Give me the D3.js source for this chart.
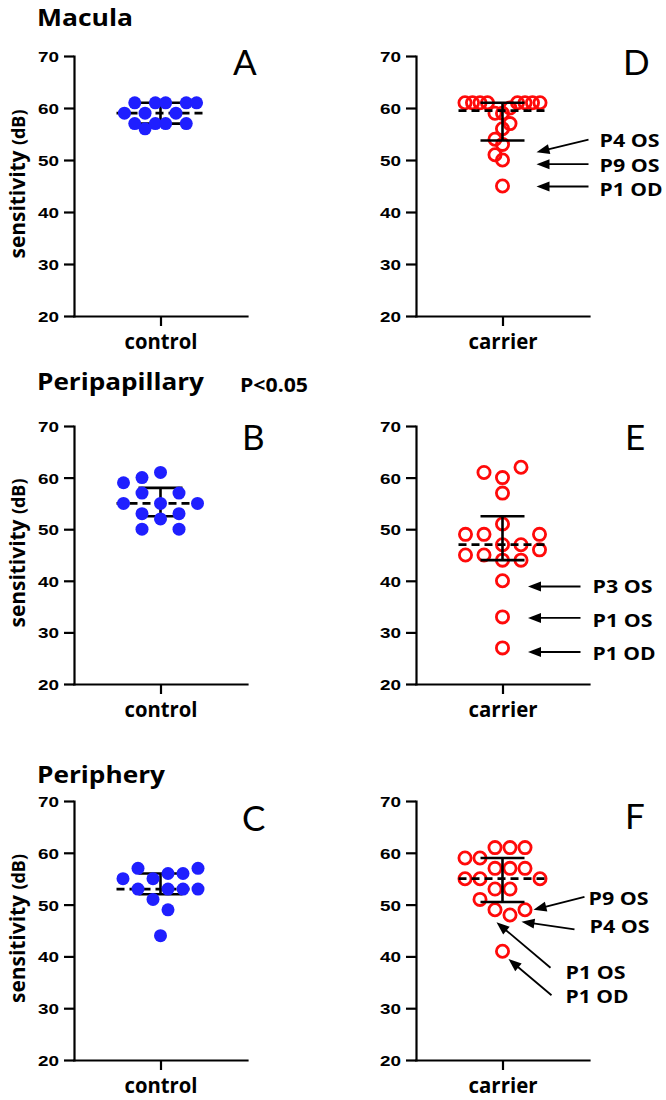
<!DOCTYPE html>
<html><head><meta charset="utf-8">
<script src="https://cdn.jsdelivr.net/npm/d3@7"></script>
<style>body{margin:0;background:#fff}svg{display:block}</style>
</head><body>
<svg id="chart" width="666" height="1100"></svg>
<script>
// ---------------- data ----------------
const sectionTitles = ["Macula", "Peripapillary", "Periphery"];
const panelLetters = ["A", "D", "B", "E", "C", "F"];
const groupNames = ["control", "carrier"];
const yTicks = [20, 30, 40, 50, 60, 70];
const pValueLabel = "P<0.05";
const yLabelMain = "sensitivity";
const yLabelUnit = "(dB)";

// sensitivities (dB), one value per eye
const controlMacula = [61, 61, 57, 57, 59, 59, 61, 61, 57, 57, 59, 61, 56];
const carrierMacula = [59, 59, 60, 57, 56, 54, 53, 51, 50, 45, 61, 61, 61, 61, 61, 61, 61, 61];
const controlPeripapillary = [61, 55, 52, 60, 57, 57, 53, 53, 50, 50, 59, 55, 55];
const carrierPeripapillary = [60, 57, 47, 44, 40, 33, 27, 61, 62, 51, 49, 47, 49, 49, 45, 45, 46, 44];
const controlPeriphery = [55, 56, 51, 53, 49, 57, 56, 55, 57, 53, 53, 53, 44];
const carrierPeriphery = [61, 57, 53, 49, 61, 57, 53, 48, 59, 61, 57, 59, 55, 55, 55, 51, 49, 41];

// annotations (values in dB: arrow tip, arrow tail/label)
const annLabelsD = ["P4 OS", "P9 OS", "P1 OD"];
const annTipD = [51.5, 49.2, 44.9];
const annTailD = [53.9, 49.2, 44.9];
const annLabelsE = ["P3 OS", "P1 OS", "P1 OD"];
const annTipE = [38.9, 32.8, 26.2];
const annTailE = [38.9, 32.8, 26.2];
const annLabelsF = ["P9 OS", "P4 OS", "P1 OS", "P1 OD"];
const annTipF = [49.0, 46.7, 46.6, 39.5];
const annTailF = [51.5, 45.2, 37.8, 32.5];

// ---------------- layout ----------------
const rows = [
  {top: 56, bottom: 316, titleY: 26},
  {top: 426, bottom: 684, titleY: 390},
  {top: 801, bottom: 1060, titleY: 783}
];
const colAxisX = [74, 416];
const axisLen = 173;
const letterPos = [[233, 75], [623, 75], [242, 450], [625, 450], [242, 831], [625, 829]];
const titleWidths = [96, 167, 128];
const BLUE = "#1f1fff", RED = "#ff0a0a";
const CAL = "'Open Sans', Lato, sans-serif";
const ARIAL = "'Liberation Sans', Arial, sans-serif";

const panels = [
  {row: 0, col: 0, values: controlMacula, group: 0, sw: {step: 10.3, parity: 1, ax: 10, ay: 11}},
  {row: 0, col: 1, values: carrierMacula, group: 1, sw: {step: 7.5, parity: 0, ax: 7, ay: 11},
   ann: {labels: annLabelsD, tip: annTipD, tail: annTailD, tipDx: [34, 34, 34], tailDx: [86, 86, 86], textDx: [97, 97, 97], textDy: [7, 8, 9]}},
  {row: 1, col: 0, values: controlPeripapillary, group: 0, sw: {step: 18.5, parity: 0, ax: 13, ay: 13}},
  {row: 1, col: 1, values: carrierPeripapillary, group: 1, sw: {step: 18.5, parity: 0, ax: 13, ay: 13},
   ann: {labels: annLabelsE, tip: annTipE, tail: annTailE, tipDx: [25.5, 25.5, 25.5], tailDx: [78, 78, 78], textDx: [90, 90, 90], textDy: [7, 9, 8]}},
  {row: 2, col: 0, values: controlPeriphery, group: 0, sw: {step: 15, parity: 1, ax: 13, ay: 13}},
  {row: 2, col: 1, values: carrierPeriphery, group: 1, sw: {step: 15, parity: 1, ax: 13, ay: 13},
   ann: {labels: annLabelsF, tip: annTipF, tail: annTailF, tipDx: [31, 19, -6, 6], tailDx: [82, 72, 48, 49], textDx: [86, 87, 63, 63], textDy: [8, 4, 11, 8]}}
];

const svg = d3.select("#chart");
svg.append("rect").attr("width", 666).attr("height", 1100).attr("fill", "#fff");

function fit(sel, w) {
  sel.attr("textLength", w).attr("lengthAdjust", "spacingAndGlyphs");
}

function prismQuantile(sorted, p) {
  const n = sorted.length, h = (n + 1) * p, lo = Math.floor(h);
  if (lo < 1) return sorted[0];
  if (lo >= n) return sorted[n - 1];
  return sorted[lo - 1] + (h - lo) * (sorted[lo] - sorted[lo - 1]);
}

function swarm(values, y, p) {
  const cands = d3.range(-10, 11).map(k => (k + p.parity * 0.5) * p.step)
    .sort((a, b) => Math.abs(a) - Math.abs(b) || a - b);
  const placed = [];
  values.forEach((v, i) => {
    const py = y(v);
    const isolated = !values.some((w, j) => j !== i && Math.abs(y(w) - py) < p.ay);
    if (isolated) { placed.push({v, dx: 0, y: py}); return; }
    for (const c of cands) {
      const ok = placed.every(q => ((q.dx - c) / p.ax) ** 2 + ((q.y - py) / p.ay) ** 2 >= 1);
      if (ok) { placed.push({v, dx: c, y: py}); break; }
    }
  });
  return placed;
}

function arrow(g, x1, y1, x2, y2) {
  const a = Math.atan2(y2 - y1, x2 - x1), L = 13, W = 5;
  const c = Math.cos(a), s = Math.sin(a);
  const bx = x2 - L * c, by = y2 - L * s;
  g.append("line").attr("x1", x1).attr("y1", y1).attr("x2", bx + 1 * c).attr("y2", by + 1 * s)
    .attr("stroke", "#000").attr("stroke-width", 1.8);
  g.append("path").attr("d", `M${x2},${y2}L${bx - W * s},${by + W * c}L${bx + W * s},${by - W * c}Z`).attr("fill", "#000");
}

// section titles
sectionTitles.forEach((t, i) => {
  svg.append("text").attr("x", 37).attr("y", rows[i].titleY)
    .attr("font-family", CAL).attr("font-weight", 700).attr("font-size", 24).attr("fill", "#000")
    .text(t).call(fit, titleWidths[i]);
});
svg.append("text").attr("x", 240).attr("y", 392)
  .attr("font-family", CAL).attr("font-weight", 700).attr("font-size", 19).attr("fill", "#000")
  .text(pValueLabel).call(fit, 68);

panels.forEach((p, pi) => {
  const R = rows[p.row], ax = colAxisX[p.col];
  const gname = groupNames[p.group];
  const y = d3.scaleLinear().domain([20, 70]).range([R.bottom, R.top]);
  const x = d3.scalePoint().domain([gname]).range([ax, ax + axisLen]).padding(0.5);
  const cx = x(gname);
  const g = svg.append("g");

  // axes
  const ya = g.append("g").attr("transform", `translate(${ax},0)`)
    .call(d3.axisLeft(y).tickValues(yTicks).tickSize(10).tickSizeOuter(0).tickPadding(5));
  const xa = g.append("g").attr("transform", `translate(0,${R.bottom})`)
    .call(d3.axisBottom(x).tickSize(10).tickSizeOuter(0));
  [ya, xa].forEach(a => {
    a.select(".domain").attr("stroke", "#000").attr("stroke-width", 2.2).attr("stroke-linecap", "square");
    a.selectAll(".tick line").attr("stroke", "#000").attr("stroke-width", 2.2);
  });
  ya.selectAll(".tick text").attr("font-family", ARIAL).attr("font-weight", 700)
    .attr("font-size", 15.5).attr("fill", "#000").attr("dy", "0.36em").call(fit, 21);
  xa.selectAll(".tick text").attr("font-family", CAL).attr("font-weight", 700)
    .attr("font-size", 21).attr("fill", "#000").attr("y", 33).attr("dy", 0)
    .call(fit, p.group === 0 ? 73 : 69);

  if (p.col === 0) {
    const t = g.append("text")
      .attr("transform", `translate(${ax - 49},${(R.top + R.bottom) / 2 - 2}) rotate(-90)`)
      .attr("text-anchor", "middle").attr("font-family", CAL).attr("font-weight", 700).attr("fill", "#000");
    t.append("tspan").attr("font-size", 21).text(yLabelMain + " ");
    t.append("tspan").attr("font-size", 18).text(yLabelUnit);
    fit(t, 149);
  }

  // panel letter
  g.append("text").attr("x", letterPos[pi][0]).attr("y", letterPos[pi][1])
    .attr("font-family", "Lato, 'Open Sans', sans-serif").attr("font-size", 35).attr("fill", "#000").text(panelLetters[pi]);

  // stats: median with interquartile range
  const sorted = p.values.slice().sort(d3.ascending);
  const med = d3.median(sorted), q1 = prismQuantile(sorted, 0.25), q3 = prismQuantile(sorted, 0.75);
  const pts = swarm(p.values, y, p.sw);

  const drawStats = () => {
    const s = g.append("g").attr("stroke", "#000");
    s.append("line").attr("x1", cx - 44).attr("x2", cx + 44).attr("y1", y(med)).attr("y2", y(med))
      .attr("stroke-width", 2.8).attr("stroke-dasharray", "8,5");
    s.append("line").attr("x1", cx).attr("x2", cx).attr("y1", y(q1)).attr("y2", y(q3)).attr("stroke-width", 2.6);
    [q1, q3].forEach(q => s.append("line").attr("x1", cx - 22).attr("x2", cx + 22)
      .attr("y1", y(q)).attr("y2", y(q)).attr("stroke-width", 2.6));
  };
  const drawDots = () => {
    const d = g.append("g").selectAll("circle").data(pts).join("circle")
      .attr("cx", q => cx + q.dx).attr("cy", q => q.y);
    if (p.group === 0) d.attr("r", 6.5).attr("fill", BLUE);
    else d.attr("r", 6.1).attr("fill", "none").attr("stroke", RED).attr("stroke-width", 2.8);
  };
  if (p.group === 0) { drawStats(); drawDots(); } else { drawDots(); drawStats(); }

  // annotations
  if (p.ann) {
    const a = p.ann;
    const ag = g.append("g");
    a.labels.forEach((lab, i) => {
      const tipY = y(a.tip[i]), tailY = y(a.tail[i]);
      arrow(ag, cx + a.tailDx[i], tailY, cx + a.tipDx[i], tipY);
      ag.append("text").attr("x", cx + a.textDx[i]).attr("y", tailY + a.textDy[i])
        .attr("font-family", CAL).attr("font-weight", 700).attr("font-size", 18).attr("fill", "#000")
        .text(lab).call(fit, lab.endsWith("OD") ? 63 : 60);
    });
  }
});
</script>
</body></html>
